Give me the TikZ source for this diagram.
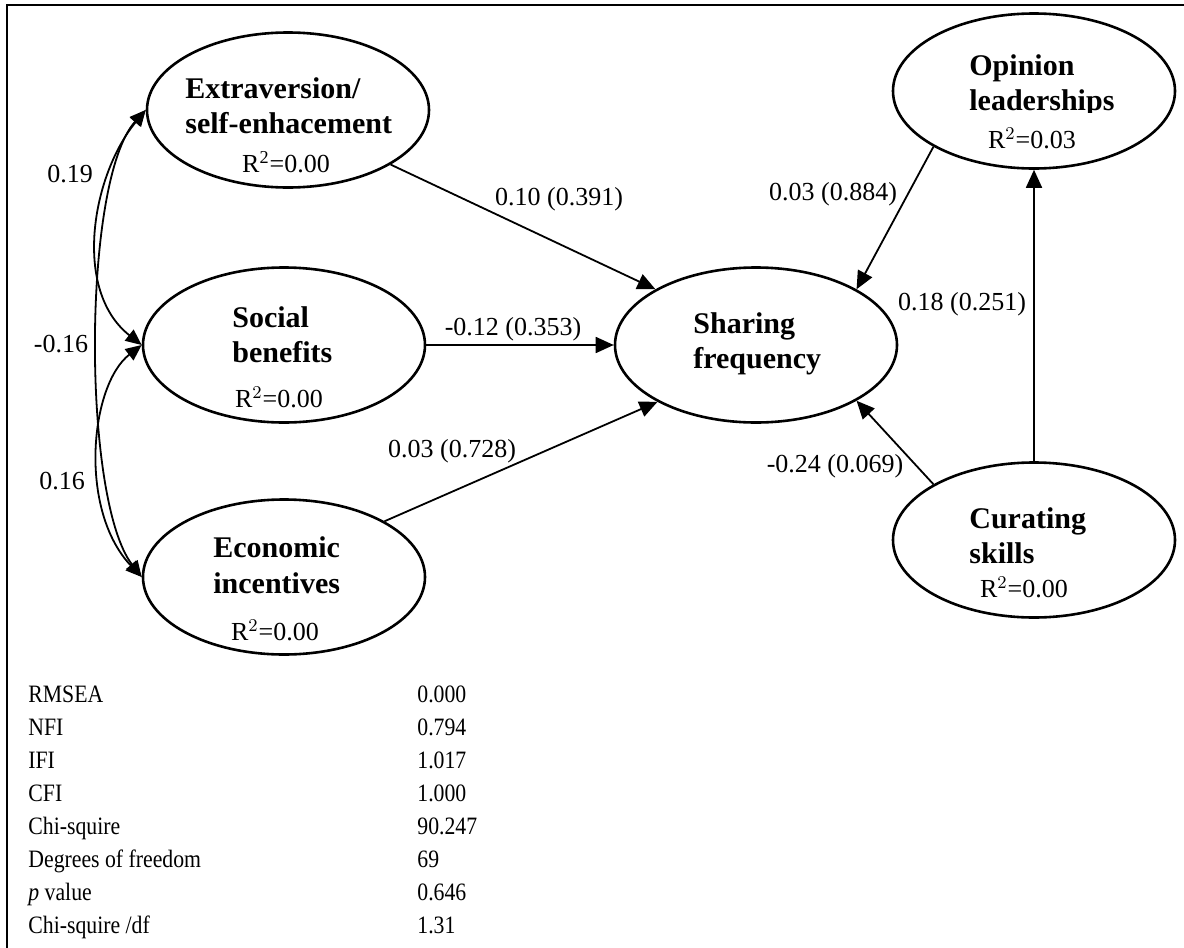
\documentclass[tikz,border=0pt]{standalone}
\usepackage{fontspec}
\setmainfont{Liberation Serif}
\usetikzlibrary{shapes.geometric,arrows.meta}
\newcommand\fitsq[1]{\scalebox{0.87}[1]{#1}}
\begin{document}
\begin{tikzpicture}[x=0.5pt,y=-0.5pt,
  latent/.style={ellipse,draw,line width=1.3pt,minimum width=141pt,minimum height=77.5pt,inner sep=0pt},
  lbl/.style={font=\fontsize{13}{15}\selectfont,anchor=base,inner sep=0pt},
  vname/.style={font=\fontsize{15}{17}\selectfont\bfseries,anchor=base west,inner sep=0pt},
  rsq/.style={font=\fontsize{13}{15}\selectfont,anchor=base,inner sep=0pt},
  effect/.style={line width=0.9pt,-{Triangle[length=9pt,width=8pt]}},
  cov/.style={line width=0.9pt,{Triangle[length=8pt,width=7pt]}-{Triangle[length=8pt,width=7pt]}},
  fitrow/.style={font=\fontsize{12.5}{14}\selectfont,anchor=base west,inner sep=0pt}]
\useasboundingbox (0,0) rectangle (1184,948);
% frame
\draw[line width=0.8pt] (7,948) -- (7,5) -- (1184,5);

% latent variables
\node[latent] (ext) at (288,110) {};
\node[latent] (soc) at (284,345) {};
\node[latent] (eco) at (284,577) {};
\node[latent] (share) at (756,345) {};
\node[latent] (op) at (1034,91) {};
\node[latent] (cur) at (1034,540) {};

% names
\node[vname] (extA) at (185,98) {Extraversion/};
\node[vname] (extB) at (185,133) {self-enhacement};
\node[rsq] (extR) at (286,172) {R\textsuperscript{2}=0.00};
\node[vname] (socA) at (232,327) {Social};
\node[vname] (socB) at (232,362) {benefits};
\node[rsq] (socR) at (279,407) {R$^{2}$=0.00};
\node[vname] (ecoA) at (213,557) {Economic};
\node[vname] (ecoB) at (213,593) {incentives};
\node[rsq] (ecoR) at (275,640) {R$^{2}$=0.00};
\node[vname] (shA) at (693,333) {Sharing};
\node[vname] (shB) at (693,368) {frequency};
\node[vname] (opA) at (969,75) {Opinion};
\begin{scope}
\clip (900,80) rectangle (1180,112);
\node[vname] (opB) at (969,110) {leaderships};
\end{scope}
\node[rsq] (opR) at (1032,148) {R$^{2}$=0.03};
\node[vname] (curA) at (969,528) {Curating};
\node[vname] (curB) at (969,563) {skills};
\node[rsq] (curR) at (1024,597) {R$^{2}$=0.00};

% structural paths
\draw[effect] (ext.332) -- (share.151);
\draw[effect] (soc) -- (share);
\draw[effect] (eco.29) -- (share.210);
\draw[effect] (op.209) -- (share.29);
\draw[effect] (cur.151) -- (share.331);
\draw[effect] (cur) -- (op);

% covariances
\draw[cov] (ext.west) .. controls (92,175) and (72,290) .. (soc.west);
\draw[cov] (ext.west) .. controls (82,180) and (82,500) .. (eco.west);
\draw[cov] (soc.west) .. controls (90,385) and (78,510) .. (eco.west);

% path labels
\node[lbl] (l1) at (559,205) {0.10 (0.391)};
\node[lbl] (l2) at (513,335) {-0.12 (0.353)};
\node[lbl] (l3) at (452,457) {0.03 (0.728)};
\node[lbl] (l4) at (833,200) {0.03 (0.884)};
\node[lbl] (l5) at (962,310) {0.18 (0.251)};
\node[lbl] (l6) at (835,472) {-0.24 (0.069)};
\node[lbl] (c1) at (70,182) {0.19};
\node[lbl] (c2) at (61,352) {-0.16};
\node[lbl] (c3) at (62,489) {0.16};

% fit indices
\node[fitrow] (f1) at (28,702) {\fitsq{RMSEA}};
\node[fitrow] (f2) at (28,735) {\fitsq{NFI}};
\node[fitrow] (f3) at (28,768) {\fitsq{IFI}};
\node[fitrow] (f4) at (28,801) {\fitsq{CFI}};
\node[fitrow] (f5) at (28,834) {\fitsq{Chi-squire}};
\node[fitrow] (f6) at (28,867) {\fitsq{Degrees of freedom}};
\node[fitrow] (f7) at (28,900) {\fitsq{\textit{p} value}};
\node[fitrow] (f8) at (28,933) {\fitsq{Chi-squire /df}};
\node[fitrow] (v1) at (417,702) {\fitsq{0.000}};
\node[fitrow] (v2) at (417,735) {\fitsq{0.794}};
\node[fitrow] (v3) at (417,768) {\fitsq{1.017}};
\node[fitrow] (v4) at (417,801) {\fitsq{1.000}};
\node[fitrow] (v5) at (417,834) {\fitsq{90.247}};
\node[fitrow] (v6) at (417,867) {\fitsq{69}};
\node[fitrow] (v7) at (417,900) {\fitsq{0.646}};
\node[fitrow] (v8) at (417,933) {\fitsq{1.31}};
\end{tikzpicture}
\end{document}
